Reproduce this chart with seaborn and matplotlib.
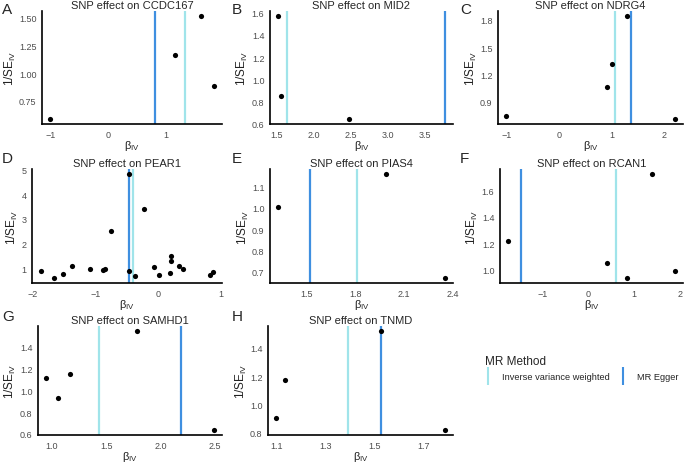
import numpy as np
import pandas as pd
import matplotlib
matplotlib.use('Agg')
import matplotlib.pyplot as plt
from matplotlib.lines import Line2D
import seaborn as sns

sns.set_style('white')
plt.rcParams['font.family'] = ['Liberation Sans', 'DejaVu Sans']
plt.rcParams['mathtext.fontset'] = 'custom'
plt.rcParams['mathtext.rm'] = 'Liberation Sans'

# gene panels: SNP beta_IV and 1/SE_IV, plus the two MR estimates
genes = ['CCDC167', 'MID2', 'NDRG4', 'PEAR1', 'PIAS4', 'RCAN1', 'SAMHD1', 'TNMD']
letters = ['A', 'B', 'C', 'D', 'E', 'F', 'G', 'H']

beta_ccdc167 = [-1.0, 1.15, 1.6, 1.82]
inv_se_ccdc167 = [0.59, 1.16, 1.51, 0.88]

beta_mid2 = [1.52, 1.56, 2.47]
inv_se_mid2 = [1.57, 0.85, 0.64]

beta_ndrg4 = [-1.0, 0.92, 1.0, 1.29, 2.2]
inv_se_ndrg4 = [0.74, 1.06, 1.31, 1.84, 0.71]

beta_pear1 = [-1.87, -1.66, -1.51, -1.37, -1.09, -0.88, -0.84, -0.75, -0.46, -0.46,
              -0.36, -0.22, -0.06, 0.02, 0.19, 0.21, 0.21, 0.33, 0.40, 0.83, 0.88]
inv_se_pear1 = [0.91, 0.63, 0.80, 1.11, 0.97, 0.95, 0.99, 2.51, 4.80, 0.91,
                0.72, 3.41, 1.08, 0.75, 0.83, 1.49, 1.32, 1.11, 1.00, 0.75, 0.88]

beta_pias4 = [1.326, 1.993, 2.352]
inv_se_pias4 = [1.006, 1.158, 0.672]

beta_rcan1 = [-1.76, 0.40, 0.85, 1.39, 1.89]
inv_se_rcan1 = [1.216, 1.046, 0.936, 1.725, 0.987]

beta_samhd1 = [0.95, 1.055, 1.165, 1.78, 2.49]
inv_se_samhd1 = [1.115, 0.93, 1.148, 1.547, 0.635]

beta_tnmd = [1.10, 1.135, 1.527, 1.784]
inv_se_tnmd = [0.90, 1.175, 1.52, 0.818]

ivw = [1.32, 1.64, 1.06, -0.40, 1.81, 0.61, 1.43, 1.39]
egger = [0.80, 3.76, 1.37, -0.47, 1.52, -1.48, 2.19, 1.525]

betas = [beta_ccdc167, beta_mid2, beta_ndrg4, beta_pear1, beta_pias4, beta_rcan1, beta_samhd1, beta_tnmd]
inv_ses = [inv_se_ccdc167, inv_se_mid2, inv_se_ndrg4, inv_se_pear1, inv_se_pias4, inv_se_rcan1, inv_se_samhd1, inv_se_tnmd]

xticks = [[-1, 0, 1], [1.5, 2.0, 2.5, 3.0, 3.5], [-1, 0, 1, 2], [-2, -1, 0, 1],
          [1.5, 1.8, 2.1, 2.4], [-1, 0, 1, 2], [1.0, 1.5, 2.0, 2.5], [1.1, 1.3, 1.5, 1.7]]
yticks = [[0.75, 1.00, 1.25, 1.50], [0.6, 0.8, 1.0, 1.2, 1.4, 1.6], [0.9, 1.2, 1.5, 1.8],
          [1, 2, 3, 4, 5], [0.7, 0.8, 0.9, 1.0, 1.1], [1.0, 1.2, 1.4, 1.6],
          [0.6, 0.8, 1.0, 1.2, 1.4], [0.8, 1.0, 1.2, 1.4]]
xfmt = ['{:.0f}', '{:.1f}', '{:.0f}', '{:.0f}', '{:.1f}', '{:.0f}', '{:.1f}', '{:.1f}']
yfmt = ['{:.2f}', '{:.1f}', '{:.1f}', '{:.0f}', '{:.1f}', '{:.1f}', '{:.1f}', '{:.1f}']

IVW_COL = '#a0e4ea'
EGGER_COL = '#3f8fe0'

W, H = 685, 464
# axes boxes in pixels: left, top, right, bottom
boxes = [(42, 12, 222, 125), (270, 12, 453, 125), (498, 12, 683, 125),
         (32, 170, 222, 284), (270, 170, 453, 284), (500, 170, 683, 284),
         (38, 327, 222, 436), (268, 327, 453, 436)]
letter_pos = [(2, 3), (232, 3), (460, 3), (2, 152), (232, 152), (460, 152), (2, 310), (232, 310)]

fig = plt.figure(figsize=(W / 100, H / 100), dpi=100)

for i, g in enumerate(genes):
    l, t, r, b = boxes[i]
    ax = fig.add_axes([l / W, 1 - b / H, (r - l) / W, (b - t) / H])
    df = pd.DataFrame({'b': betas[i], 'se': inv_ses[i]})
    ax.axvline(ivw[i], color=IVW_COL, lw=1.6, zorder=1)
    ax.axvline(egger[i], color=EGGER_COL, lw=1.6, zorder=1)
    sns.scatterplot(data=df, x='b', y='se', ax=ax, color='black', s=14,
                    edgecolor='black', linewidth=0, zorder=3)
    xmin = min(betas[i] + [ivw[i], egger[i]])
    xmax = max(betas[i] + [ivw[i], egger[i]])
    ax.set_xlim(xmin - 0.05 * (xmax - xmin), xmax + 0.05 * (xmax - xmin))
    ymin, ymax = min(inv_ses[i]), max(inv_ses[i])
    ax.set_ylim(ymin - 0.05 * (ymax - ymin), ymax + 0.05 * (ymax - ymin))
    ax.set_xticks(xticks[i])
    ax.set_xticklabels([xfmt[i].format(v).replace('-', '\u2212') for v in xticks[i]])
    ax.set_yticks(yticks[i])
    ax.set_yticklabels([yfmt[i].format(v) for v in yticks[i]])
    ax.tick_params(axis='both', labelsize=6.5, colors='#4d4d4d', length=2.5, width=0.6, pad=1.5)
    ax.tick_params(axis='both', color='#333333')
    for s in ['top', 'right']:
        ax.spines[s].set_visible(False)
    for s in ['left', 'bottom']:
        ax.spines[s].set_linewidth(1.2)
        ax.spines[s].set_color('black')
    ax.set_xlabel(r'$\mathregular{\beta_{IV}}$', fontsize=8, color='#222222', labelpad=-0.5)
    ax.set_ylabel(r'$\mathregular{1/SE_{IV}}$', fontsize=8.5, color='#222222', labelpad=1)
    ax.set_title('SNP effect on ' + g, fontsize=8, pad=2)
    fig.text(letter_pos[i][0] / W, 1 - letter_pos[i][1] / H, letters[i],
             fontsize=11, va='top', ha='left')

handles = [Line2D([], [], color=IVW_COL, marker='|', linestyle='None', markersize=13, markeredgewidth=1.5),
           Line2D([], [], color=EGGER_COL, marker='|', linestyle='None', markersize=13, markeredgewidth=1.5)]
leg = fig.legend(handles, ['Inverse variance weighted', 'MR Egger'], title='MR Method',
                 ncol=2, loc='upper left', bbox_to_anchor=(477 / W, 1 - 348 / H),
                 frameon=False, fontsize=6.7, title_fontsize=8.5, handlelength=0.6,
                 columnspacing=1.1, handletextpad=1.2)
leg._legend_box.align = 'left'

fig.savefig('out.png', dpi=100)
